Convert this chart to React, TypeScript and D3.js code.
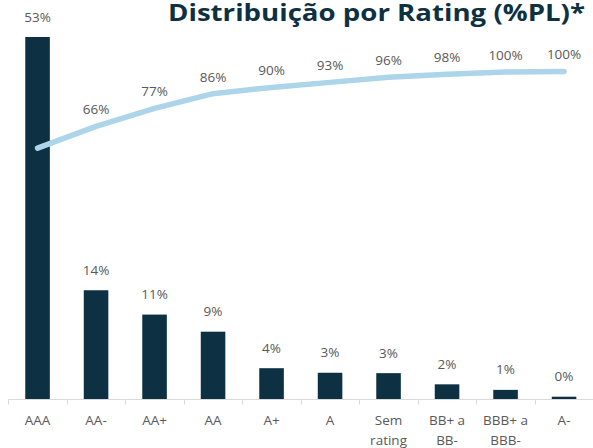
import * as d3 from 'd3';

const categories: string[] = ['AAA', 'AA-', 'AA+', 'AA', 'A+', 'A', 'Sem rating', 'BB+ a BB-', 'BBB+ a BBB-', 'A-'];
const categoryLines: string[][] = [
  ['AAA'], ['AA-'], ['AA+'], ['AA'], ['A+'], ['A'],
  ['Sem', 'rating'], ['BB+ a', 'BB-'], ['BBB+ a', 'BBB-'], ['A-'],
];
// % of PL per rating (bars)
const shareValues: number[] = [53.2, 14.3, 11.1, 8.85, 4.05, 3.45, 3.4, 1.93, 1.2, 0.3];
// cumulative % (line)
const cumulativeValues: number[] = [53.2, 66.4, 77.4, 86.4, 90.2, 93.3, 96.4, 98.2, 99.6, 100];

const W = 593;
const H = 448;
const BAR = '#0d3142';
const LINE = '#acd5ea';
const LABEL = '#595959';
const FONT = '"Open Sans", "Noto Sans", sans-serif';

export default function App() {
  const x = d3.scaleBand<string>()
    .domain(categories)
    .range([8.3, 593.3])
    .paddingInner(0.58)
    .paddingOuter(0.29);

  // primary axis is cut short so the AAA bar runs off the top of the plot
  const y = d3.scaleLinear().domain([0, 47.6]).range([399, 37]).clamp(true);
  const y2 = d3.scaleLinear().domain([-100, 121]).range([399, 37]);

  const bw = x.bandwidth();
  const step = x.step();
  const cx = (c: string) => (x(c) ?? 0) + bw / 2;

  const line = d3.line<number>()
    .x((_, i) => cx(categories[i]))
    .y(d => y2(d));

  return (
    <svg width={W} height={H} style={{ position: 'absolute', left: 0, top: 0, background: '#fff' }}>
      <text
        x={585}
        y={21}
        textAnchor="end"
        fontFamily={FONT}
        fontWeight={700}
        fontSize={24}
        fill="#0e3142"
        textLength={417}
        lengthAdjust="spacingAndGlyphs"
      >
        Distribuição por Rating (%PL)*
      </text>

      {categories.map((c, i) => (
        <rect key={c} x={x(c)} y={y(shareValues[i])} width={bw} height={399 - y(shareValues[i])} fill={BAR} />
      ))}

      <line x1={8.3} x2={W} y1={399.5} y2={399.5} stroke="#d9d9d9" />
      {categories.map((c, i) => {
        const tx = Math.round(cx(c) - step / 2) + 0.5;
        return <line key={'t' + i} x1={tx} x2={tx} y1={399.5} y2={404.5} stroke="#d9d9d9" />;
      })}

      <path d={line(cumulativeValues) ?? ''} fill="none" stroke={LINE} strokeWidth={5.5} strokeLinecap="round" strokeLinejoin="round" />

      <g fontFamily={FONT} fontSize={13.5} fill={LABEL} textAnchor="middle">
        {categories.map((c, i) => (
          <text key={'b' + i} x={cx(c)} y={y(shareValues[i]) - 15.5}>
            {`${Math.round(shareValues[i])}%`}
          </text>
        ))}
        {categories.map((c, i) => i === 0 ? null : (
          <text key={'l' + i} x={cx(c)} y={y2(cumulativeValues[i]) - 12}>
            {`${Math.round(cumulativeValues[i])}%`}
          </text>
        ))}
        {categories.map((c, i) => (
          <text key={'c' + i} x={cx(c)} y={425}>
            {categoryLines[i].map((t, j) => (
              <tspan key={j} x={cx(c)} dy={j === 0 ? 0 : 20}>{t}</tspan>
            ))}
          </text>
        ))}
      </g>
    </svg>
  );
}
